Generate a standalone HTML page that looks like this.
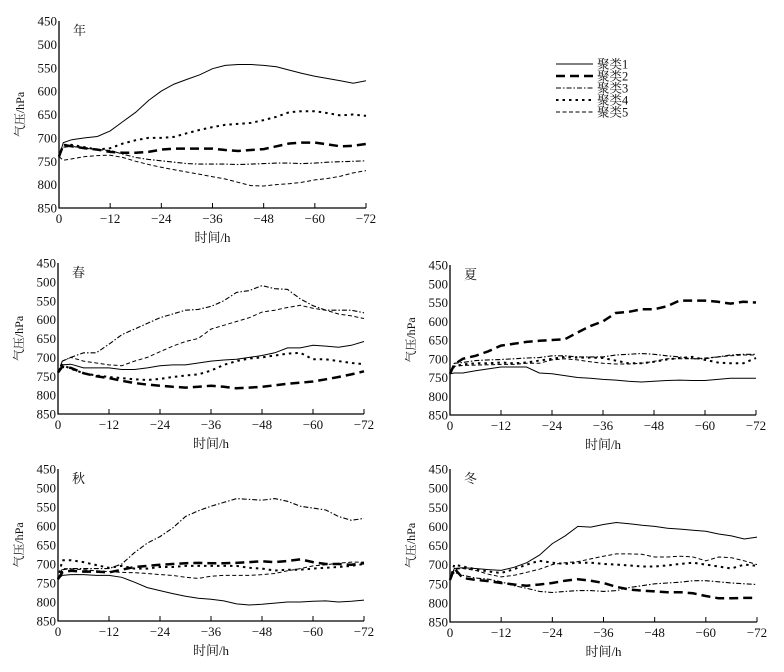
<!DOCTYPE html>
<html><head><meta charset="utf-8"><style>
body{margin:0;background:#fff}
svg text{font-family:"Liberation Serif","Times New Roman","Noto Serif CJK SC",serif;fill:#111}
</style></head><body>
<svg id="chart" width="784" height="667" viewBox="0 0 784 667" xmlns="http://www.w3.org/2000/svg"></svg>
<script>
const hours=[0,1,3,6,9,12,15,18,21,24,27,30,33,36,39,42,45,48,51,54,57,60,63,66,69,72];
const xTicks=[0,-12,-24,-36,-48,-60,-72];
const yTicks=[450,500,550,600,650,700,750,800,850];
const seriesNames=["聚类1","聚类2","聚类3","聚类4","聚类5"];
const yearS1=[740,710,704,700,697,685,665,645,620,600,585,575,565,552,545,543,543,545,548,555,562,568,573,578,583,578];
const yearS2=[740,715,718,722,725,730,732,732,730,725,723,723,723,723,726,728,726,724,718,712,710,710,714,718,717,713];
const yearS3=[740,720,718,722,725,727,735,742,746,749,752,755,756,756,756,757,756,755,754,754,755,754,752,751,750,749];
const yearS4=[740,715,715,720,725,722,712,705,700,700,698,690,683,677,672,670,668,662,655,645,643,643,647,652,650,653];
const yearS5=[740,748,745,740,738,737,742,750,757,763,768,773,778,783,788,795,802,803,800,798,795,790,787,782,775,770];
const springS1=[740,720,718,728,728,728,732,732,728,722,720,720,715,710,707,705,700,695,688,675,675,668,670,673,668,658];
const springS2=[740,725,728,742,750,755,762,768,772,775,778,780,778,775,778,782,780,778,774,770,767,764,758,752,745,737];
const springS3=[740,710,700,688,688,665,640,625,610,595,585,575,573,565,550,528,523,510,518,520,545,563,575,575,575,582];
const springS4=[740,720,730,742,748,752,755,758,760,757,752,748,745,735,720,710,703,700,695,690,688,705,705,710,715,718];
const springS5=[740,710,700,710,715,720,722,710,700,685,670,658,650,625,615,605,595,580,575,568,562,570,575,585,590,597];
const summerS1=[740,738,738,732,727,722,722,722,738,740,745,750,752,755,757,760,762,760,758,757,758,758,755,752,752,752];
const summerS2=[740,715,700,692,680,665,660,655,652,650,648,630,613,600,578,575,568,568,560,545,545,545,548,553,548,550];
const summerS3=[740,712,710,705,703,702,700,698,697,692,692,695,695,695,690,688,686,688,692,695,700,700,695,690,688,688];
const summerS4=[740,720,715,712,712,710,712,710,705,700,695,697,697,698,705,712,712,708,702,698,695,703,710,712,712,698];
const summerS5=[740,720,718,717,716,715,715,712,712,703,700,703,708,712,714,714,712,707,700,700,700,698,695,692,690,690];
const autumnS1=[740,730,728,728,730,730,735,748,762,770,778,785,790,793,797,805,808,806,803,800,800,798,797,800,798,795];
const autumnS2=[740,722,718,720,720,722,715,708,705,702,700,698,697,698,698,697,695,693,695,692,688,695,700,700,702,698];
const autumnS3=[740,715,712,712,712,712,700,670,645,628,605,575,560,548,538,528,530,532,528,535,548,553,558,575,585,580];
const autumnS4=[740,690,690,695,703,710,705,712,712,708,708,705,705,705,705,705,710,712,717,715,715,712,710,708,705,700];
const autumnS5=[740,712,713,715,718,720,722,723,725,728,730,735,738,732,730,730,730,728,725,718,712,705,702,698,695,695];
const winterS1=[740,710,708,710,713,715,707,695,675,645,625,600,602,595,590,593,597,600,605,607,610,613,620,625,633,628];
const winterS2=[740,710,735,740,743,748,752,755,752,748,742,738,742,748,758,765,768,770,772,772,775,782,788,788,787,787];
const winterS3=[740,720,728,735,738,745,755,762,770,773,770,768,768,770,768,760,755,750,748,746,742,742,745,748,750,752];
const winterS4=[740,700,705,712,718,722,712,700,690,695,698,695,695,698,700,702,705,705,702,698,695,700,705,710,700,703];
const winterS5=[740,712,710,715,725,732,728,720,712,700,695,692,685,678,672,672,673,680,680,678,680,690,680,682,690,700];

const styles=[
 {w:1,d:""},{w:2.5,d:"9,5"},{w:1.1,d:"5,2,1.5,2"},{w:2,d:"2.5,4"},{w:1,d:"4,2.5"}];
const panels=[
 {key:"year",label:"年",l:59,r:366,t:21,b:208,s:[yearS1,yearS2,yearS3,yearS4,yearS5]},
 {key:"spring",label:"春",l:58,r:364,t:263,b:414,s:[springS1,springS2,springS3,springS4,springS5]},
 {key:"summer",label:"夏",l:450,r:756,t:265,b:415,s:[summerS1,summerS2,summerS3,summerS4,summerS5]},
 {key:"autumn",label:"秋",l:58,r:364,t:469,b:621,s:[autumnS1,autumnS2,autumnS3,autumnS4,autumnS5]},
 {key:"winter",label:"冬",l:450,r:757,t:469,b:622,s:[winterS1,winterS2,winterS3,winterS4,winterS5]}];
const NS="http://www.w3.org/2000/svg";
const FF='"Liberation Serif","Noto Serif CJK SC",serif';
const svg=document.getElementById('chart');
function mk(tag,attrs,parent){const e=document.createElementNS(NS,tag);for(const k in attrs)e.setAttribute(k,attrs[k]);(parent||svg).appendChild(e);return e;}
panels.forEach(p=>{
 const g=mk('g',{});
 
 
 const xs=h=>p.l+(h/72)*(p.r-p.l);
 const ys=v=>p.t+(v-450)/400*(p.b-p.t);
 const ax=mk('path',{d:`M${p.l},${p.t}V${p.b}H${p.r}`,fill:'none',stroke:'#000','stroke-width':1.3},g);
 
 
 xTicks.forEach(t=>{
  const x=xs(-t);
  if(t!==0){const tk=mk('line',{x1:x,x2:x,y1:p.b,y2:p.b-5,stroke:'#000','stroke-width':1},g);
   
   }
  const tx=mk('text',{x:x,y:p.b+15,'text-anchor':'middle','font-size':13,'font-family':FF},g);
  
  
  tx.textContent=t===0?'0':'\u2212'+(-t);
 });
 yTicks.forEach(v=>{
  const tx=mk('text',{x:p.l-2,y:ys(v)+4.5,'text-anchor':'end','font-size':13,'font-family':FF},g);
  
  
  tx.textContent=v;
 });
 const xt=mk('text',{x:(p.l+p.r)/2,y:p.b+34,'text-anchor':'middle','font-size':13,'font-family':FF},g);
 
 
 xt.textContent='时间/h';
 const yc=(p.t+p.b)/2;
 const yt=mk('text',{x:p.l-39,y:yc+4,'text-anchor':'middle','font-size':12,'font-family':FF,transform:`rotate(-90 ${p.l-39} ${yc})`},g);
 
 
 yt.textContent='气压/hPa';
 const pl=mk('text',{x:p.l+14,y:p.t+14,'font-size':13,'font-family':FF},g);
 
 
 pl.textContent=p.label;
 p.s.forEach((arr,i)=>{
  const d=arr.map((v,j)=>(j?'L':'M')+xs(hours[j]).toFixed(1)+','+ys(v).toFixed(1)).join('');
  const ln=mk('path',{d:d,fill:'none',stroke:'#000','stroke-width':styles[i].w,'stroke-dasharray':styles[i].d},g);
  
  
 });
});
const lg=mk('g',{});


seriesNames.forEach((n,i)=>{
 const y=64+i*12;
 const ln=mk('line',{x1:556,x2:593,y1:y,y2:y,stroke:'#000','stroke-width':styles[i].w,'stroke-dasharray':styles[i].d},lg);
 
 
 const t=mk('text',{x:597,y:y+4.5,'font-size':12.5,'font-family':FF},lg);
 
 
 t.textContent=n;
});
</script>
</body></html>
